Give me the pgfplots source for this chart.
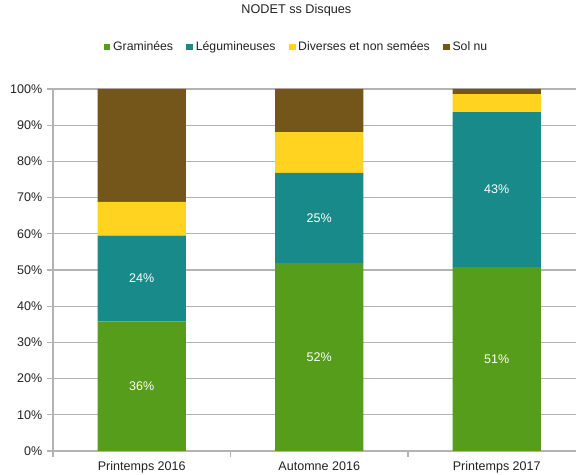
\documentclass[border=0pt]{standalone}
\usepackage{fontspec}
\setmainfont{Liberation Sans}
\usepackage{pgfplots}
\pgfplotsset{compat=1.18}
\definecolor{cGram}{HTML}{579D1C}
\definecolor{cLeg}{HTML}{198A8A}
\definecolor{cDiv}{HTML}{FFD320}
\definecolor{cSol}{HTML}{74561A}
\definecolor{gridc}{HTML}{B3B3B3}
\definecolor{txt}{HTML}{222222}
\begin{document}
\begin{tikzpicture}
\useasboundingbox (0,0) rectangle (432pt,356.25pt);
\clip (0,0) rectangle (432pt,356.25pt);
\begin{axis}[
  at={(39.75pt,18pt)}, anchor=south west,
  scale only axis, width=399.375pt, height=271.5pt,
  ybar stacked, bar width=0.496,
  xmin=-0.5, xmax=2.5, ymin=0, ymax=100,
  axis lines*=left,
  axis line style={gridc, line width=0.8pt},
  xtick={0,1,2},
  xticklabels={Printemps 2016, Automne 2016, Printemps 2017},
  major x tick style={draw=none},
  minor xtick={-0.5,0.5,1.5,2.5},
  minor x tick style={gridc, line width=0.8pt},
  minor tick length=4.5pt,
  tick align=outside,
  ytick={0,10,...,100},
  major y tick style={gridc, line width=0.8pt},
  major tick length=4.5pt,
  yticklabel={\pgfmathprintnumber{\tick}\%},
  /pgf/number format/assume math mode=true,
  ymajorgrids,
  grid style={gridc, line width=0.8pt},
  tick label style={font=\fontsize{9.4}{11}\selectfont, text=txt},
  title={NODET ss Disques},
  title style={at={(0.457,1.196)}, anchor=center, yshift=0pt, font=\fontsize{9.5}{11}\selectfont, text=txt},
  legend columns=4,
  legend style={at={(0.458,1.116)}, anchor=center, draw=none, fill=none,
    font=\fontsize{9.2}{11}\selectfont, text=txt,
    /tikz/every even column/.append style={column sep=8pt},
    inner sep=0pt},
  legend image code/.code={\fill[#1] (0pt,-2.5pt) rectangle (5pt,2.5pt);},
  lbl/.style={
    point meta=rawy,
    nodes near coords={\pgfmathprintnumber[fixed,precision=0]{\pgfplotspointmeta}\%},
    every node near coord/.append style={anchor=center, text=white,
      font=\fontsize{9.4}{11}\selectfont},
  },
]
\addplot+[fill=cGram, draw=none, lbl] coordinates {(0,35.8) (1,51.9) (2,50.8)};
\addplot+[fill=cLeg, draw=none, lbl] coordinates {(0,23.7) (1,24.9) (2,42.8)};
\addplot+[fill=cDiv, draw=none] coordinates {(0,9.3) (1,11.3) (2,5.0)};
\addplot+[fill=cSol, draw=none] coordinates {(0,31.2) (1,11.9) (2,1.4)};
\legend{Graminées, Légumineuses, Diverses et non semées, Sol nu}
\end{axis}
\end{tikzpicture}
\end{document}
